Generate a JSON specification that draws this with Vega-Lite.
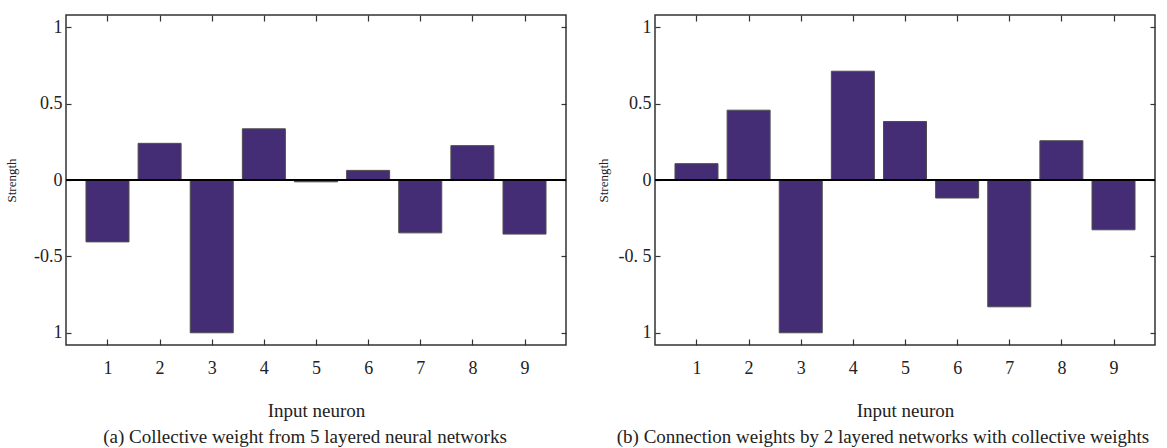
{
  "$schema": "https://vega.github.io/schema/vega-lite/v6.json",
  "padding": {"left": 4, "top": 13, "right": 0, "bottom": 0},
  "background": "white",
  "datasets": {
    "a": [
      {"neuron": 1, "strength": -0.405},
      {"neuron": 2, "strength": 0.24},
      {"neuron": 3, "strength": -1.0},
      {"neuron": 4, "strength": 0.335},
      {"neuron": 5, "strength": -0.012},
      {"neuron": 6, "strength": 0.063},
      {"neuron": 7, "strength": -0.346},
      {"neuron": 8, "strength": 0.225},
      {"neuron": 9, "strength": -0.354}
    ],
    "b": [
      {"neuron": 1, "strength": 0.107},
      {"neuron": 2, "strength": 0.457},
      {"neuron": 3, "strength": -1.0},
      {"neuron": 4, "strength": 0.712},
      {"neuron": 5, "strength": 0.383},
      {"neuron": 6, "strength": -0.118},
      {"neuron": 7, "strength": -0.83},
      {"neuron": 8, "strength": 0.257},
      {"neuron": 9, "strength": -0.326}
    ]
  },
  "config": {
    "view": {"stroke": "#333333", "strokeWidth": 1.5},
    "font": "Liberation Serif",
    "axis": {
      "domain": false,
      "grid": false,
      "tickColor": "#333333",
      "tickWidth": 1.2,
      "labelFont": "Liberation Serif",
      "labelFontSize": 18,
      "labelColor": "#222222",
      "titleFont": "Liberation Serif",
      "titleFontWeight": "normal",
      "titleColor": "#222222"
    },
    "axisX": {"tickSize": -6, "labelPadding": 20, "titleFontSize": 19, "titlePadding": 24},
    "axisY": {"tickSize": -5, "labelPadding": 9, "titleFontSize": 13, "titlePadding": 15},
    "title": {"font": "Liberation Serif", "fontWeight": "normal", "color": "#222222", "fontSize": 19}
  },
  "spacing": 28,
  "hconcat": [
    {
      "width": 500,
      "height": 330,
      "title": {"text": "(a) Collective weight from 5 layered neural networks", "orient": "bottom", "anchor": "middle", "frame": "group", "offset": 8, "dx": -11},
      "data": {"name": "a"},
      "layer": [
        {
          "mark": {"type": "bar", "size": 43, "fill": "#452d75", "stroke": "#4d4d4d", "strokeWidth": 1},
          "encoding": {
            "x": {"field": "neuron", "type": "quantitative", "scale": {"domain": [0.3, 9.7], "nice": false, "zero": false},
                  "axis": {"orient": "bottom", "values": [1, 2, 3, 4, 5, 6, 7, 8, 9], "title": "Input neuron"}},
            "y": {"field": "strength", "type": "quantitative", "scale": {"domain": [-1.08, 1.08], "nice": false},
                  "axis": {"orient": "left", "values": [-1, -0.5, 0, 0.5, 1], "title": "Strength",
                           "labelExpr": "datum.value == 1 ? '1' : datum.value == 0.5 ? '0.5' : datum.value == 0 ? '0' : datum.value == -0.5 ? '-0.5' : '1'"}}
          }
        },
        {
          "mark": {"type": "bar", "size": 43, "opacity": 0},
          "encoding": {
            "x": {"field": "neuron", "type": "quantitative", "axis": {"orient": "top", "values": [1, 2, 3, 4, 5, 6, 7, 8, 9], "labels": false, "title": null}},
            "y": {"field": "strength", "type": "quantitative", "axis": {"orient": "right", "values": [-1, -0.5, 0, 0.5, 1], "labels": false, "title": null}}
          }
        },
        {
          "mark": {"type": "rule", "color": "#000000", "strokeWidth": 1},
          "encoding": {"y": {"datum": 0, "type": "quantitative", "axis": null}}
        }
      ],
      "resolve": {"axis": {"x": "independent", "y": "independent"}}
    },
    {
      "width": 500,
      "height": 330,
      "title": {"text": "(b) Connection weights by 2 layered networks with collective weights", "orient": "bottom", "anchor": "middle", "frame": "group", "offset": 8, "dx": -22},
      "data": {"name": "b"},
      "layer": [
        {
          "mark": {"type": "bar", "size": 43, "fill": "#452d75", "stroke": "#4d4d4d", "strokeWidth": 1},
          "encoding": {
            "x": {"field": "neuron", "type": "quantitative", "scale": {"domain": [0.3, 9.7], "nice": false, "zero": false},
                  "axis": {"orient": "bottom", "values": [1, 2, 3, 4, 5, 6, 7, 8, 9], "title": "Input neuron"}},
            "y": {"field": "strength", "type": "quantitative", "scale": {"domain": [-1.08, 1.08], "nice": false},
                  "axis": {"orient": "left", "values": [-1, -0.5, 0, 0.5, 1], "title": "Strength", "titlePadding": 8,
                           "labelExpr": "datum.value == 1 ? '1' : datum.value == 0.5 ? '0.5' : datum.value == 0 ? '0' : datum.value == -0.5 ? '-0. 5' : '1'"}}
          }
        },
        {
          "mark": {"type": "bar", "size": 43, "opacity": 0},
          "encoding": {
            "x": {"field": "neuron", "type": "quantitative", "axis": {"orient": "top", "values": [1, 2, 3, 4, 5, 6, 7, 8, 9], "labels": false, "title": null}},
            "y": {"field": "strength", "type": "quantitative", "axis": {"orient": "right", "values": [-1, -0.5, 0, 0.5, 1], "labels": false, "title": null}}
          }
        },
        {
          "mark": {"type": "rule", "color": "#000000", "strokeWidth": 1},
          "encoding": {"y": {"datum": 0, "type": "quantitative", "axis": null}}
        }
      ],
      "resolve": {"axis": {"x": "independent", "y": "independent"}}
    }
  ]
}
